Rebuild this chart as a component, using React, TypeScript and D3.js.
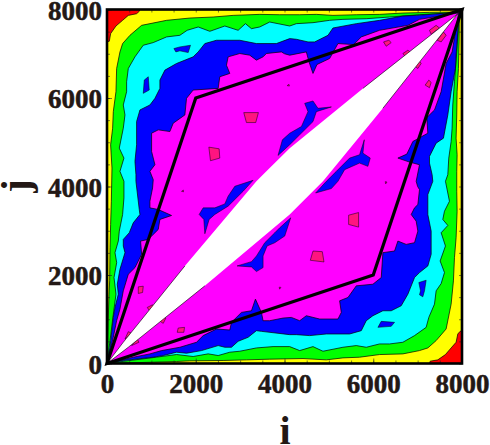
import React, { useEffect, useRef } from 'react';
import * as d3 from 'd3';

type Pt = [number, number];

// contours, upper triangle only (j > i), the map is symmetric in i <-> j
const redEdge: Pt[] = [[0, 0], [0, 7270], [52, 7282], [82, 7455], [202, 7627], [352, 7755], [480, 7867], [667, 7905], [727, 7958], [740, 8000], [8000, 8000]];

const yellowEdge: Pt[] = [[0, 0], [45, 1567], [60, 1867], [68, 2617], [82, 3142], [98, 3667], [112, 4417], [82, 4942], [127, 5317], [142, 5692], [202, 6142], [217, 6667], [292, 7042], [352, 7230], [517, 7417], [780, 7642], [1342, 7755], [1867, 7807], [2392, 7830], [2842, 7867], [3442, 7890], [3892, 7882], [4342, 7882], [4717, 7890], [5092, 7867], [5617, 7882], [6142, 7890], [6667, 7920], [7267, 7935], [7905, 7942], [8000, 8000]];

const greenEdge: Pt[] = [[0, 0], [68, 517], [143, 1117], [203, 1567], [158, 1942], [218, 2280], [180, 2505], [255, 2767], [277, 2992], [352, 3367], [382, 3742], [382, 4117], [292, 4342], [382, 4642], [277, 4867], [367, 5317], [405, 5617], [367, 5842], [442, 6142], [442, 6367], [480, 6667], [630, 6930], [817, 7192], [1042, 7252], [1342, 7380], [1642, 7417], [1807, 7530], [2055, 7605], [2317, 7507], [2655, 7627], [2955, 7530], [3120, 7680], [3255, 7567], [3442, 7605], [3667, 7717], [4117, 7627], [4267, 7680], [4642, 7702], [5017, 7755], [5317, 7777], [5842, 7792], [6367, 7830], [7042, 7882], [7905, 7935], [8000, 8000]];

const cyanEdge: Pt[] = [[0, 0], [67, 367], [142, 1042], [180, 1267], [255, 1567], [232, 1792], [292, 2130], [405, 2505], [367, 2655], [367, 2805], [502, 2955], [592, 3180], [742, 3367], [727, 3480], [652, 4117], [652, 4267], [630, 4567], [667, 4942], [667, 5467], [742, 5730], [967, 5842], [1080, 5992], [1192, 6217], [1192, 6405], [1305, 6630], [1567, 6780], [1942, 6930], [2055, 7042], [2205, 7230], [2467, 7305], [2992, 7305], [3367, 7230], [3817, 7230], [4117, 7342], [4267, 7327], [4530, 7267], [4680, 7267], [4980, 7417], [5092, 7582], [5617, 7680], [6142, 7755], [6667, 7852], [6967, 7867], [7905, 7935], [8000, 8000]];

const blueEdge: Pt[] = [[0, 0], [142, 592], [217, 967], [292, 1230], [367, 1642], [480, 2017], [630, 2167], [780, 2467], [757, 2767], [930, 2805], [1155, 3030], [1192, 3255], [1455, 3345], [1155, 3480], [967, 3517], [967, 3667], [1027, 3967], [1042, 4155], [967, 4342], [1080, 4492], [1005, 4792], [1005, 5205], [1155, 5280], [1417, 5242], [1492, 5430], [1755, 5617], [1792, 5992], [1942, 6180], [2505, 6217], [2542, 6480], [2767, 6555], [2692, 6742], [2730, 6930], [2992, 7005], [3217, 6967], [3367, 6855], [3517, 6930], [3592, 7005], [3930, 7042], [4000, 7000], [4117, 6967], [4492, 7042], [4552, 6817], [4642, 6555], [4732, 6757], [5017, 6892], [5205, 7230], [5557, 7207], [5730, 7380], [6142, 7530], [6780, 7642], [7042, 7777], [7905, 7920], [8000, 8000]];

const lensEdge: Pt[] = [[0, 0], [367, 480], [1755, 2205], [3367, 4117], [3592, 4342], [4117, 4867], [5767, 6217], [7905, 7905], [8000, 8000]];
const lensContourLow: Pt[] = [[0, 0], [367, 480], [1755, 2205]];
const lensContourHigh: Pt[] = [[5767, 6217], [7905, 7905], [8000, 8000]];

const blueIslands: Pt[][] = [
  [[1507, 7117], [1642, 7155], [1882, 7192], [1830, 7027], [1642, 7065], [1552, 7042]],
  [[840, 6405], [930, 6480], [952, 6180], [817, 6105]],
  [[3854, 4702], [3953, 5056], [4117, 5204], [4381, 5355], [4529, 5692], [4455, 5879], [4642, 5933], [4754, 5767], [5056, 5798], [4718, 5692], [4642, 5467], [4342, 5168], [4117, 4943]],
  [[2077, 3368], [2167, 3517], [2430, 3517], [2655, 3607], [2729, 3780], [2880, 4005], [3292, 4140], [3067, 3892], [2954, 3780], [2729, 3555], [2430, 3368], [2302, 3256], [2205, 2932], [2182, 3256]],
];

const pinkIslands: Pt[][] = [
  [[3082, 5670], [3412, 5670], [3352, 5445], [3142, 5445]],
  [[2295, 4890], [2527, 4852], [2542, 4642], [2332, 4582]],
  [[705, 1732], [817, 1747], [802, 1605], [705, 1582]],
  [[907, 1267], [1027, 1327], [1057, 1282], [967, 1177]],
  [[405, 555], [480, 720], [555, 682], [480, 620]],
  [[6232, 7267], [6352, 7305], [6405, 7252], [6292, 7170]],
  [[6667, 7005], [6780, 7080], [6832, 7042], [6727, 6930]],
  [[7267, 7530], [7417, 7642], [7492, 7582], [7305, 7440]],
  [[4060, 6280], [4100, 6310], [4110, 6270]],
  [[1680, 3890], [1720, 3920], [1725, 3880]],
];

const parallelogram: Pt[] = [[0, 0], [2000, 6000], [8000, 8000], [6000, 2000], [0, 0]];
const majorTicks = [0, 2000, 4000, 6000, 8000];
const minorTicks = d3.range(0, 8001, 500);

const mirror = (pts: Pt[]): Pt[] => pts.map(([a, b]) => [b, a] as Pt);
const ring = (pts: Pt[]): Pt[] => [...pts, ...mirror(pts).reverse()];

const App = () => {
  const svgRef = useRef<SVGSVGElement>(null);

  useEffect(() => {
    const svg = d3.select(svgRef.current);
    svg.selectAll('*').remove();

    const x = d3.scaleLinear().domain([0, 8000]).range([107, 462]);
    const y = d3.scaleLinear().domain([0, 8000]).range([363.5, 9.5]);
    const line = d3.line<Pt>().x(d => x(d[0])).y(d => y(d[1]));
    const ink = '#231815';
    const serif = '"Liberation Serif", serif';

    svg.append('rect')
      .attr('x', x(0)).attr('y', y(8000))
      .attr('width', x(8000) - x(0)).attr('height', y(0) - y(8000))
      .attr('fill', '#ff0000');

    const bands: [Pt[], string][] = [
      [redEdge, '#ffff00'],
      [yellowEdge, '#00ff00'],
      [greenEdge, '#00ffff'],
      [cyanEdge, '#0000ff'],
      [blueEdge, '#ff00ff'],
    ];
    bands.forEach(([edge, color]) => {
      svg.append('path')
        .attr('d', line(ring(edge)) + 'Z')
        .attr('fill', color)
        .attr('stroke', '#000')
        .attr('stroke-width', 0.7)
        .attr('stroke-linejoin', 'round');
    });

    // islands appear on both sides of the diagonal
    const islands = (list: Pt[][], color: string) => {
      list.flatMap(p => [p, mirror(p)]).forEach(p => {
        svg.append('path')
          .attr('d', line(p) + 'Z')
          .attr('fill', color)
          .attr('stroke', '#000')
          .attr('stroke-width', 0.5);
      });
    };
    islands(blueIslands, '#0000ff');
    islands(pinkIslands, '#ff1480');

    svg.append('path').attr('d', line(ring(lensEdge)) + 'Z').attr('fill', '#fff');
    [lensContourLow, lensContourHigh].flatMap(p => [p, mirror(p)]).forEach(p => {
      svg.append('path')
        .attr('d', line(p))
        .attr('fill', 'none')
        .attr('stroke', '#000')
        .attr('stroke-width', 0.6);
    });

    // inner ticks on all four sides
    const tickAxes: [d3.Axis<number>, string][] = [
      [d3.axisBottom<number>(x).tickValues(minorTicks).tickSize(-3).tickFormat(() => ''), `translate(0,${y(0)})`],
      [d3.axisTop<number>(x).tickValues(minorTicks).tickSize(-3).tickFormat(() => ''), `translate(0,${y(8000)})`],
      [d3.axisLeft<number>(y).tickValues(minorTicks).tickSize(-3).tickFormat(() => ''), `translate(${x(0)},0)`],
      [d3.axisRight<number>(y).tickValues(minorTicks).tickSize(-3).tickFormat(() => ''), `translate(${x(8000)},0)`],
    ];
    tickAxes.forEach(([axis, transform]) => {
      const g = svg.append('g').attr('transform', transform).call(axis as any);
      g.select('.domain').remove();
      g.selectAll('line').attr('stroke', '#222').attr('stroke-width', 0.6);
    });

    const labelStyle = (sel: any) => sel
      .attr('fill', ink)
      .attr('stroke', ink)
      .attr('stroke-width', 0.5)
      .style('font', `bold 27px ${serif}`);

    const xAxis = svg.append('g')
      .attr('transform', `translate(0,${y(0)})`)
      .call(d3.axisBottom(x).tickValues(majorTicks).tickSize(-5).tickFormat(d3.format('d')) as any);
    xAxis.select('.domain').remove();
    xAxis.selectAll('line').attr('stroke', '#222').attr('stroke-width', 0.6);
    xAxis.selectAll('text').attr('y', 29.5).attr('dy', 0).call(labelStyle);

    const yAxis = svg.append('g')
      .attr('transform', `translate(${x(0)},0)`)
      .call(d3.axisLeft(y).tickValues(majorTicks).tickSize(-5).tickFormat(d3.format('d')) as any);
    yAxis.select('.domain').remove();
    yAxis.selectAll('line').attr('stroke', '#222').attr('stroke-width', 0.6);
    yAxis.selectAll('text').attr('x', -5).attr('dy', 9.5).call(labelStyle);

    svg.append('path')
      .attr('d', line(parallelogram) + 'Z')
      .attr('fill', 'none')
      .attr('stroke', '#000')
      .attr('stroke-width', 3.2)
      .attr('stroke-linejoin', 'miter');

    svg.append('rect')
      .attr('x', x(0)).attr('y', y(8000))
      .attr('width', x(8000) - x(0)).attr('height', y(0) - y(8000))
      .attr('fill', 'none')
      .attr('stroke', '#000')
      .attr('stroke-width', 2.6);

    svg.append('text')
      .attr('x', 285).attr('y', 444)
      .attr('text-anchor', 'middle')
      .attr('fill', ink)
      .style('font', `bold 40px ${serif}`)
      .text('i');

    svg.append('text')
      .attr('transform', 'translate(29,186) rotate(-90)')
      .attr('text-anchor', 'middle')
      .attr('fill', ink)
      .style('font', `bold 40px ${serif}`)
      .text('j');
  }, []);

  return (
    <svg
      ref={svgRef}
      width={490}
      height={445}
      style={{ position: 'absolute', left: 0, top: 0, display: 'block' }}
    />
  );
};

export default App;
